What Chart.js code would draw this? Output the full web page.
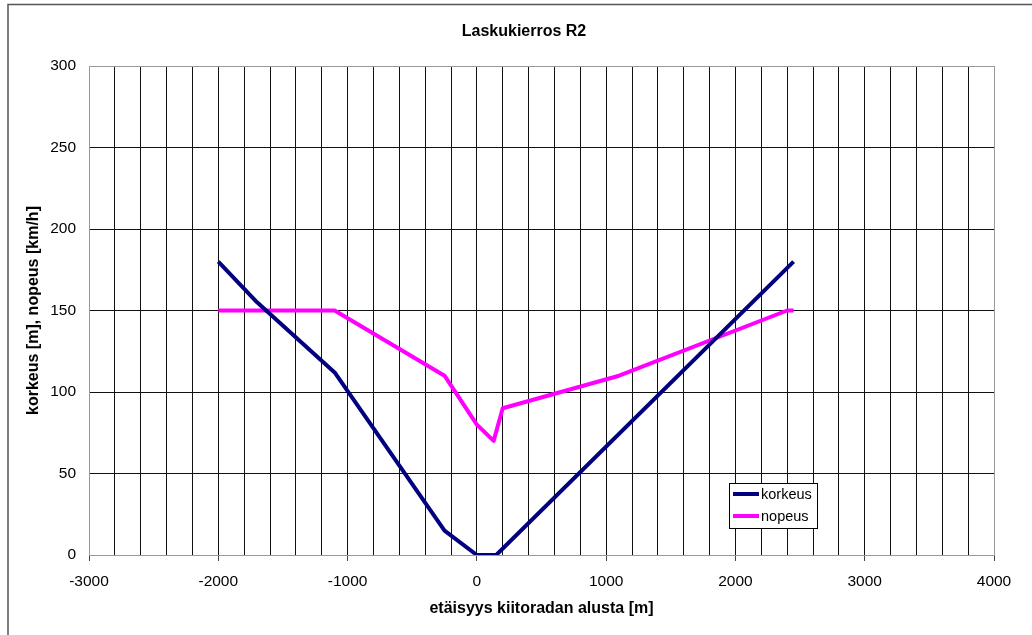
<!DOCTYPE html>
<html>
<head>
<meta charset="utf-8">
<script src="https://cdn.jsdelivr.net/npm/chart.js@4.4.0/dist/chart.umd.min.js"></script>
<style>
  html, body { margin: 0; padding: 0; background: #fff; }
  canvas { display: block; }
</style>
</head>
<body>
<canvas id="myChart" width="1032" height="635"></canvas>
<script>
const chartTitle = "Laskukierros R2";
const xAxisTitle = "etäisyys kiitoradan alusta [m]";
const yAxisTitle = "korkeus [m], nopeus [km/h]";

// korkeus (altitude, m) against distance from runway start
const korkeusDistance = [-2000, -1700, -1100, -250, 0, 150, 2450];
const korkeusValues   = [180, 155, 112, 15, 0, 0, 180];

// nopeus (speed, km/h)
const nopeusDistance = [-2000, -1100, -250, 0, 130, 200, 1100, 2400, 2450];
const nopeusValues   = [150, 150, 110, 80, 70, 90, 110, 150, 150];

const xTickLabels = [-3000, -2000, -1000, 0, 1000, 2000, 3000, 4000];
const yTickLabels = [0, 50, 100, 150, 200, 250, 300];

const fontFamily = "'Liberation Sans', Arial, sans-serif";

function toPoints(xs, ys) {
  return xs.map((x, i) => ({ x: x, y: ys[i] }));
}

const xMin = xTickLabels[0], xMax = xTickLabels[xTickLabels.length - 1];
const yMin = yTickLabels[0], yMax = yTickLabels[yTickLabels.length - 1];

// outer frame, chart title and the boxed legend inside the plot
const extras = {
  id: "extras",
  beforeDraw(chart) {
    const ctx = chart.ctx;
    ctx.save();
    ctx.fillStyle = "#fff";
    ctx.fillRect(0, 0, chart.width, chart.height);
    ctx.strokeStyle = "#555";
    ctx.lineWidth = 1.5;
    ctx.beginPath();
    ctx.moveTo(8, chart.height);
    ctx.lineTo(8, 4.5);
    ctx.lineTo(chart.width, 4.5);
    ctx.stroke();
    ctx.fillStyle = "#000";
    ctx.font = "bold 16px " + fontFamily;
    ctx.textAlign = "center";
    ctx.textBaseline = "middle";
    ctx.fillText(chartTitle, 524, 32);
    ctx.restore();
  },
  afterDraw(chart) {
    const ctx = chart.ctx;
    ctx.save();
    ctx.fillStyle = "#fff";
    ctx.fillRect(729.5, 483.5, 88, 45);
    ctx.strokeStyle = "#000";
    ctx.lineWidth = 1;
    ctx.strokeRect(729.5, 483.5, 88, 45);
    ctx.font = "14.5px " + fontFamily;
    ctx.textBaseline = "middle";
    ctx.textAlign = "left";
    chart.data.datasets.forEach((ds, i) => {
      const y = 494 + i * 22;
      ctx.strokeStyle = ds.borderColor;
      ctx.lineWidth = 4;
      ctx.beginPath();
      ctx.moveTo(733, y);
      ctx.lineTo(759, y);
      ctx.stroke();
      ctx.fillStyle = "#000";
      ctx.fillText(ds.label, 761, y + 0.5);
    });
    ctx.restore();
  }
};

var myChart = new Chart(document.getElementById("myChart").getContext("2d"), {
  type: "line",
  data: {
    datasets: [
      {
        label: "korkeus",
        data: toPoints(korkeusDistance, korkeusValues),
        borderColor: "#000080",
        backgroundColor: "#000080",
        borderWidth: 4,
        pointRadius: 0,
        borderJoinStyle: "round",
        tension: 0
      },
      {
        label: "nopeus",
        data: toPoints(nopeusDistance, nopeusValues),
        borderColor: "#ff00ff",
        backgroundColor: "#ff00ff",
        borderWidth: 4,
        pointRadius: 0,
        borderJoinStyle: "round",
        tension: 0
      }
    ]
  },
  options: {
    responsive: false,
    animation: false,
    devicePixelRatio: 1,
    layout: { padding: { left: 0, right: 38, top: 66, bottom: 0 } },
    plugins: {
      legend: { display: false },
      title: { display: false },
      tooltip: { enabled: false }
    },
    scales: {
      x: {
        type: "linear",
        min: xMin,
        max: xMax,
        afterFit: (scale) => { scale.height = 80; },
        ticks: {
          stepSize: 200,
          autoSkip: false,
          maxRotation: 0,
          padding: 11,
          color: "#000",
          font: { family: fontFamily, size: 15.5 },
          callback: (v) => xTickLabels.includes(Math.round(v)) ? String(Math.round(v)) : ""
        },
        grid: {
          color: (c) => (c.tick && (c.tick.value === xMin || c.tick.value === xMax)) ? "#999" : "#111",
          lineWidth: 1,
          tickLength: 6,
          tickColor: (c) => (c.tick && xTickLabels.includes(Math.round(c.tick.value))) ? "#444" : "rgba(0,0,0,0)"
        },
        border: { display: true, color: "#999", width: 1 },
        title: {
          display: true,
          text: xAxisTitle,
          color: "#000",
          font: { family: fontFamily, size: 16, weight: "bold" },
          padding: { top: 0, bottom: 17 }
        }
      },
      y: {
        min: yMin,
        max: yMax,
        afterFit: (scale) => { scale.width = 89; },
        ticks: {
          stepSize: 50,
          padding: 13,
          color: "#000",
          font: { family: fontFamily, size: 15.5 },
          callback: (v) => yTickLabels.includes(v) ? String(v) : ""
        },
        grid: {
          color: (c) => (c.tick && (c.tick.value === yMin || c.tick.value === yMax)) ? "#999" : "#111",
          lineWidth: 1,
          drawTicks: false
        },
        border: { display: true, color: "#999", width: 1 },
        title: {
          display: true,
          text: yAxisTitle,
          color: "#000",
          font: { family: fontFamily, size: 16, weight: "bold" },
          padding: { top: 24, bottom: 0 }
        }
      }
    }
  },
  plugins: [extras]
});
</script>
</body>
</html>
